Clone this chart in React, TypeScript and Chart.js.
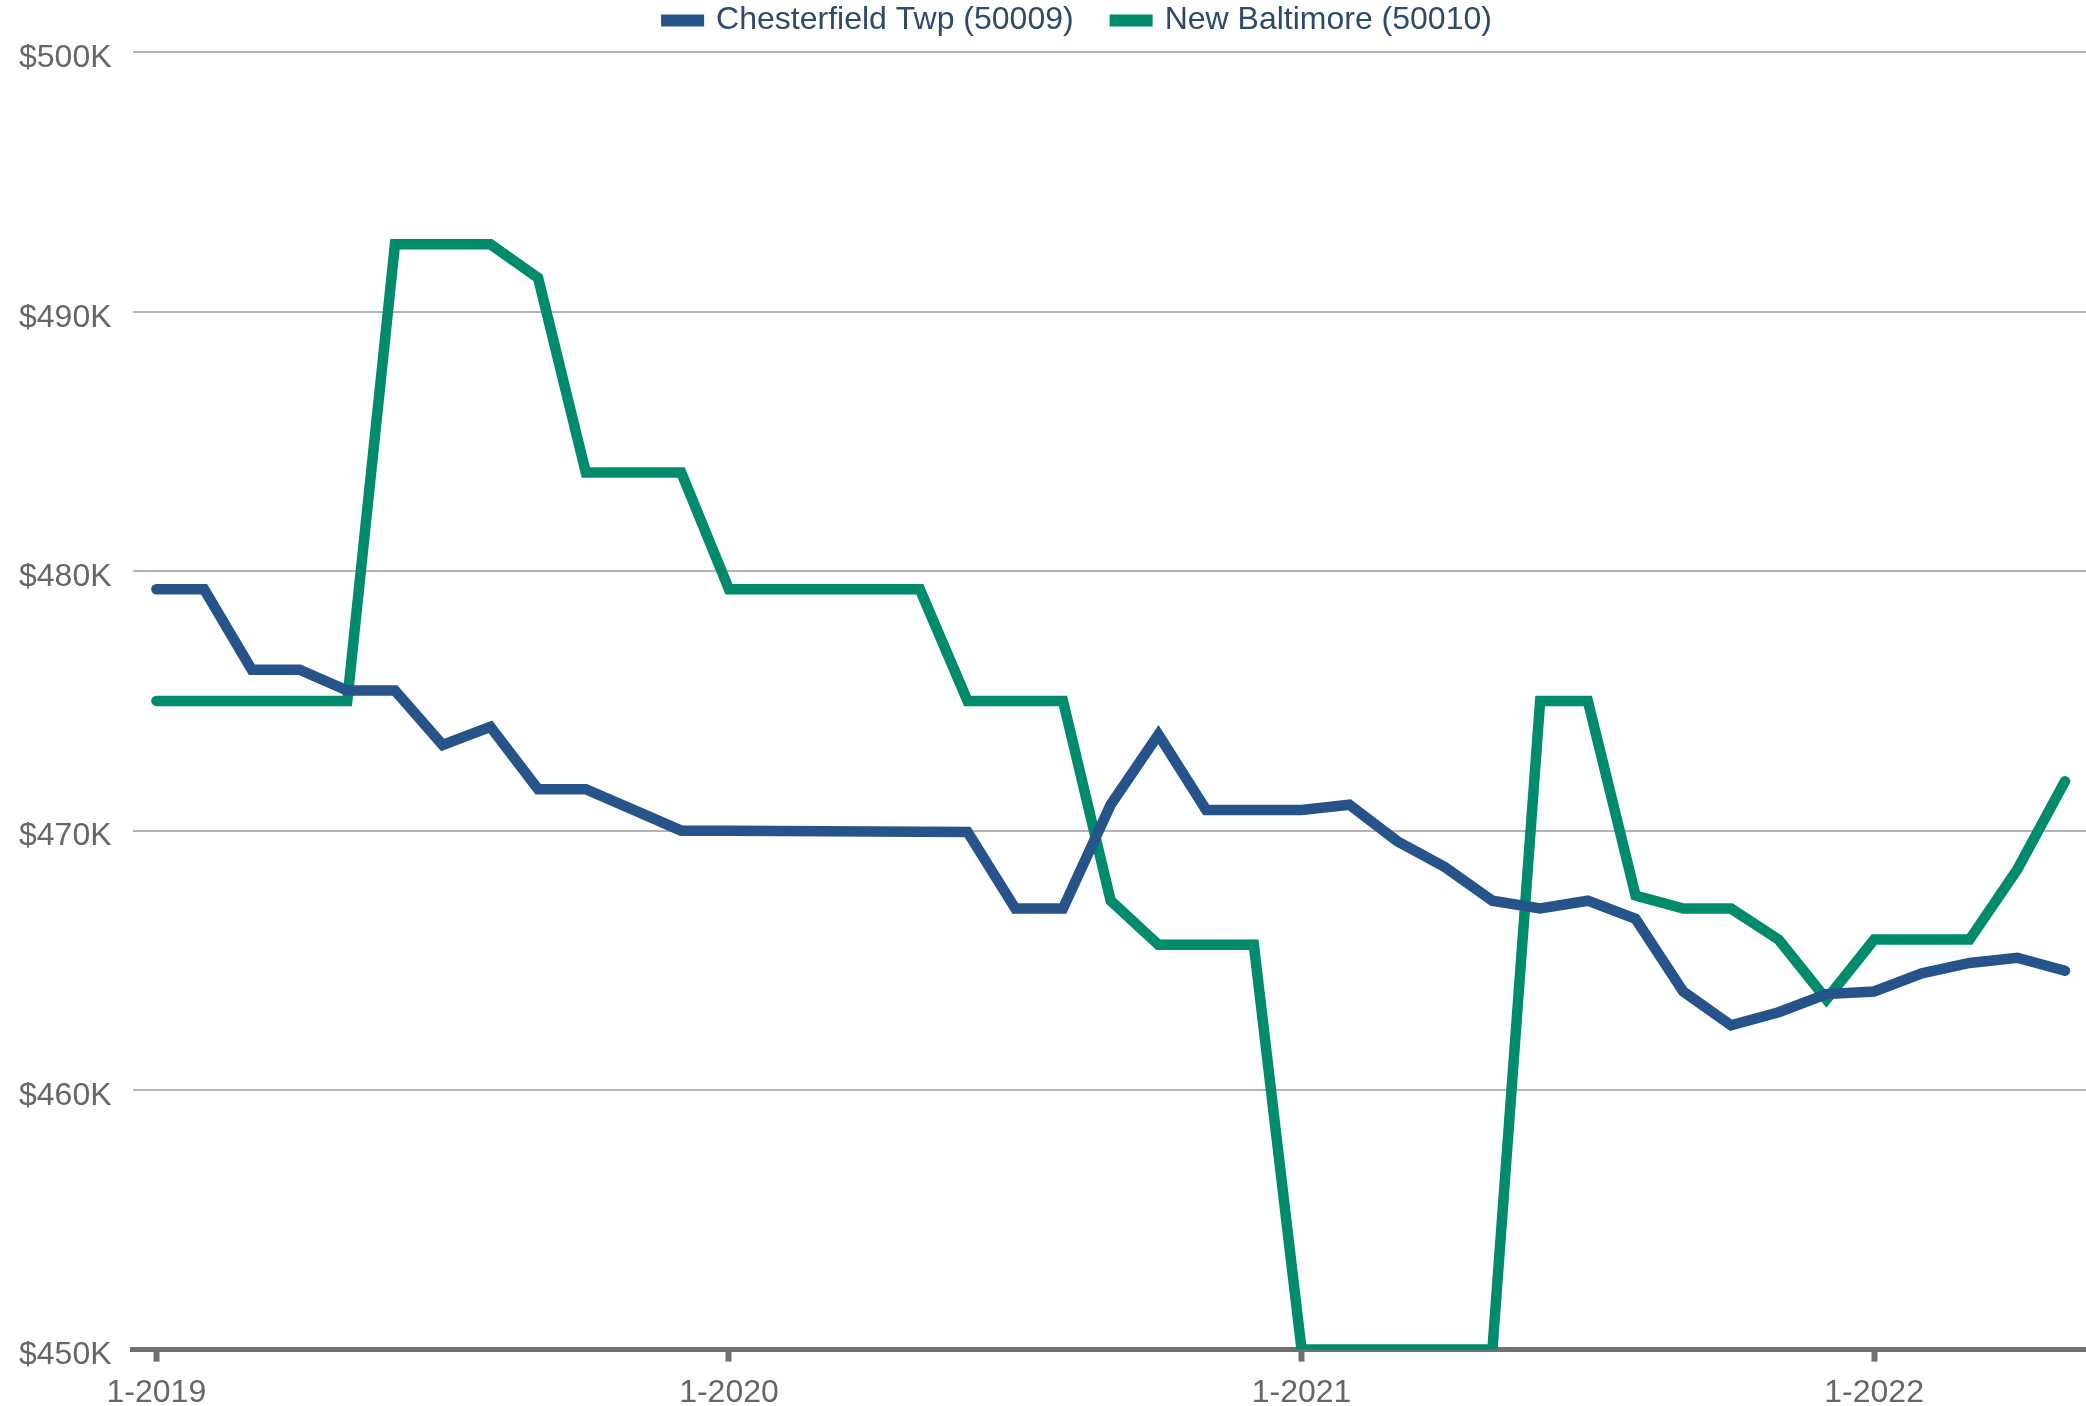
import React, { useEffect, useRef } from "react";
import { Chart, registerables } from "chart.js";

Chart.register(...registerables);

// Month labels (M-YYYY), Jan 2019 .. May 2022
const monthLabels: string[] = [
  "1-2019", "2-2019", "3-2019", "4-2019", "5-2019", "6-2019", "7-2019", "8-2019", "9-2019", "10-2019", "11-2019", "12-2019",
  "1-2020", "2-2020", "3-2020", "4-2020", "5-2020", "6-2020", "7-2020", "8-2020", "9-2020", "10-2020", "11-2020", "12-2020",
  "1-2021", "2-2021", "3-2021", "4-2021", "5-2021", "6-2021", "7-2021", "8-2021", "9-2021", "10-2021", "11-2021", "12-2021",
  "1-2022", "2-2022", "3-2022", "4-2022", "5-2022",
];

// Indexes of the labelled x ticks
const yearTickIndexes: number[] = [0, 12, 24, 36];

// Values in $K
const chesterfieldValues: number[] = [
  479.3, 479.3, 476.2, 476.2, 475.4, 475.4, 473.3, 474.0, 471.6, 471.6, 470.8, 470.0,
  470.0, 469.99, 469.98, 469.97, 469.96, 469.95, 467.0, 467.0, 471.0, 473.7, 470.8, 470.8,
  470.8, 471.0, 469.6, 468.6, 467.3, 467.0, 467.3, 466.6, 463.8, 462.5, 463.0, 463.7,
  463.8, 464.5, 464.9, 465.1, 464.6,
];

const newBaltimoreValues: number[] = [
  475.0, 475.0, 475.0, 475.0, 475.0, 492.6, 492.6, 492.6, 491.3, 483.8, 483.8, 483.8,
  479.3, 479.3, 479.3, 479.3, 479.3, 475.0, 475.0, 475.0, 467.3, 465.6, 465.6, 465.6,
  450.0, 450.0, 450.0, 450.0, 450.0, 475.0, 475.0, 467.5, 467.0, 467.0, 465.8, 463.5,
  465.8, 465.8, 465.8, 468.5, 471.9,
];

const seriesNames: string[] = ["Chesterfield Twp (50009)", "New Baltimore (50010)"];
const seriesColors: string[] = ["#26548a", "#008c6c"];

const yTickValues: number[] = [450, 460, 470, 480, 490, 500];

const FONT = "'Liberation Sans', Arial, Helvetica, sans-serif";

export default function App() {
  const canvasRef = useRef<HTMLCanvasElement | null>(null);

  useEffect(() => {
    const canvas = canvasRef.current;
    if (!canvas) return;
    const toPoints = (vals: number[]) => vals.map((v, i) => ({ x: i, y: v }));
    const lineStyle = {
      borderWidth: 10.5,
      pointRadius: 0,
      pointHoverRadius: 0,
      tension: 0,
      borderCapStyle: "round" as const,
      borderJoinStyle: "miter" as const,
      fill: false,
    };
    const chart = new Chart(canvas, {
      type: "line",
      data: {
        datasets: [
          {
            label: seriesNames[0],
            data: toPoints(chesterfieldValues),
            borderColor: seriesColors[0],
            backgroundColor: seriesColors[0],
            ...lineStyle,
          },
          {
            label: seriesNames[1],
            data: toPoints(newBaltimoreValues),
            borderColor: seriesColors[1],
            backgroundColor: seriesColors[1],
            ...lineStyle,
          },
        ],
      },
      options: {
        responsive: false,
        animation: false,
        devicePixelRatio: 1,
        layout: { padding: { top: -35.5, left: -2, right: 0, bottom: -19 } },
        plugins: {
          tooltip: { enabled: false },
          title: { display: false },
          legend: {
            display: true,
            position: "top",
            align: "center",
            labels: {
              generateLabels: (ch: any) =>
                Chart.defaults.plugins.legend.labels
                  .generateLabels(ch)
                  .map((it: any) => ({ ...it, lineWidth: 8 })),
              boxWidth: 35,
              boxHeight: 4,
              padding: 40,
              color: "#2d4a6b",
              font: { family: FONT, size: 32 },
            },
          },
        },
        scales: {
          x: {
            type: "linear",
            min: -0.5,
            max: 41.97,
            afterBuildTicks: (scale: any) => {
              scale.ticks = yearTickIndexes.map((v) => ({ value: v }));
            },
            grid: {
              drawOnChartArea: false,
              drawTicks: true,
              tickLength: 12,
              tickWidth: 6,
              tickColor: "#707070",
              color: "#707070",
            },
            border: { display: true, color: "#707070", width: 5 },
            ticks: {
              autoSkip: false,
              maxRotation: 0,
              minRotation: 0,
              padding: 12.5,
              color: "#666666",
              font: { family: FONT, size: 32 },
              callback: (v: any) => monthLabels[Math.round(Number(v))] ?? "",
            },
          },
          y: {
            type: "linear",
            min: 450,
            max: 500.22,
            afterBuildTicks: (scale: any) => {
              scale.ticks = yTickValues.map((v) => ({ value: v }));
            },
            grid: {
              drawTicks: false,
              color: "#b4b4b4",
              lineWidth: 2,
            },
            border: { display: false },
            ticks: {
              padding: 21,
              labelOffset: 6,
              color: "#666666",
              font: { family: FONT, size: 32 },
              callback: (v: any) => "$" + v + "K",
            },
          },
        },
      },
    });
    return () => chart.destroy();
  }, []);

  return (
    <div
      style={{
        position: "fixed",
        left: 0,
        top: 0,
        width: 2086,
        height: 1406,
        overflow: "hidden",
        background: "#ffffff",
      }}
    >
      <canvas ref={canvasRef} width={2159} height={1406} style={{ display: "block" }} />
    </div>
  );
}
